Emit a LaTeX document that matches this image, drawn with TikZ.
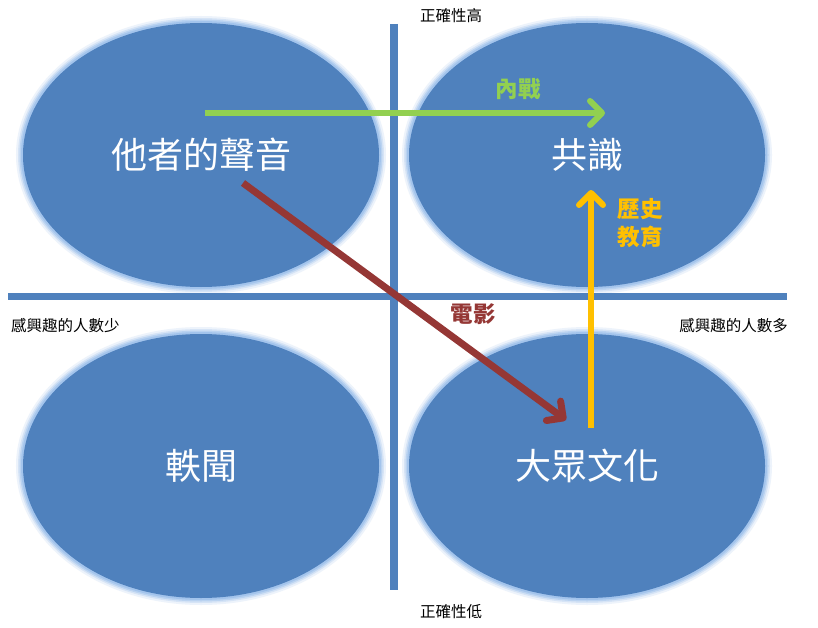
\documentclass[tikz,border=0pt]{standalone}
\usepackage{fontspec}
\newfontfamily\cjk{Noto Sans CJK TC}
\usetikzlibrary{shapes.geometric,arrows.meta}
\definecolor{mainblue}{HTML}{4F81BD}
\definecolor{glow}{HTML}{A3C4EC}
\definecolor{arrgreen}{HTML}{92D050}
\definecolor{arrred}{HTML}{953735}
\definecolor{arryellow}{HTML}{FFC000}
\begin{document}
\begin{tikzpicture}[x=1pt,y=-1pt,
  blob/.style={ellipse, minimum width=356pt, minimum height=264pt, inner sep=0pt,
    fill=mainblue, text=white, font=\cjk\fontsize{36}{40}\selectfont,
    preaction={draw=glow!20, line width=14pt},
    preaction={draw=glow!45, line width=10pt},
    preaction={draw=glow!75, line width=7pt},
    preaction={draw=glow, line width=4pt}},
  axisline/.style={draw=mainblue, line width=7pt},
  flow/.style={line width=6pt, -{Straight Barb[length=12pt, width=24pt, round]}},
  lab/.style={inner sep=0pt, font=\cjk\bfseries\fontsize{22.5}{28}\selectfont},
  small/.style={inner sep=0pt, text=black, font=\cjk\fontsize{15.5}{18}\selectfont}
]
\useasboundingbox (0,0) rectangle (818,628);
\fill[white] (0,0) rectangle (818,628);

\node[blob] (voice) at (201,155) {他者的聲音};
\node[blob] (consensus) at (587,155) {共識};
\node[blob] (anecdote) at (201,466) {軼聞};
\node[blob] (popular) at (587,466) {大眾文化};

\coordinate (vtop) at (394,24);
\coordinate (vbot) at (394,590);
\coordinate (hleft) at (8,296);
\coordinate (hright) at (787,296);
\draw[axisline, line width=8pt] (vtop) -- (vbot);
\draw[axisline] (hleft) -- (hright);

\coordinate (gs) at (205,113);
\coordinate (ge) at (605,113);
\coordinate (rs) at (243,183);
\coordinate (re) at (566,420);
\coordinate (ys) at (591,428);
\coordinate (ye) at (591,190);

\draw[flow, draw=arrgreen] (gs) -- (ge);
\draw[flow, draw=arrred, line width=7pt] (rs) -- (re);
\draw[flow, draw=arryellow] (ys) -- (ye);

\node[lab, text=arrgreen] (war) at (518,89) {內戰};
\node[lab, text=arrred] (film) at (473,314) {電影};
\node[lab, text=arryellow, align=left] (hist) at (640,223) {歷史\\教育};

\node[small] (hi) at (451,16) {正確性高};
\node[small] (lo) at (451,612) {正確性低};
\node[small, anchor=west] (few) at (11,326) {感興趣的人數少};
\node[small, anchor=east] (many) at (788,326) {感興趣的人數多};
\end{tikzpicture}
\end{document}
